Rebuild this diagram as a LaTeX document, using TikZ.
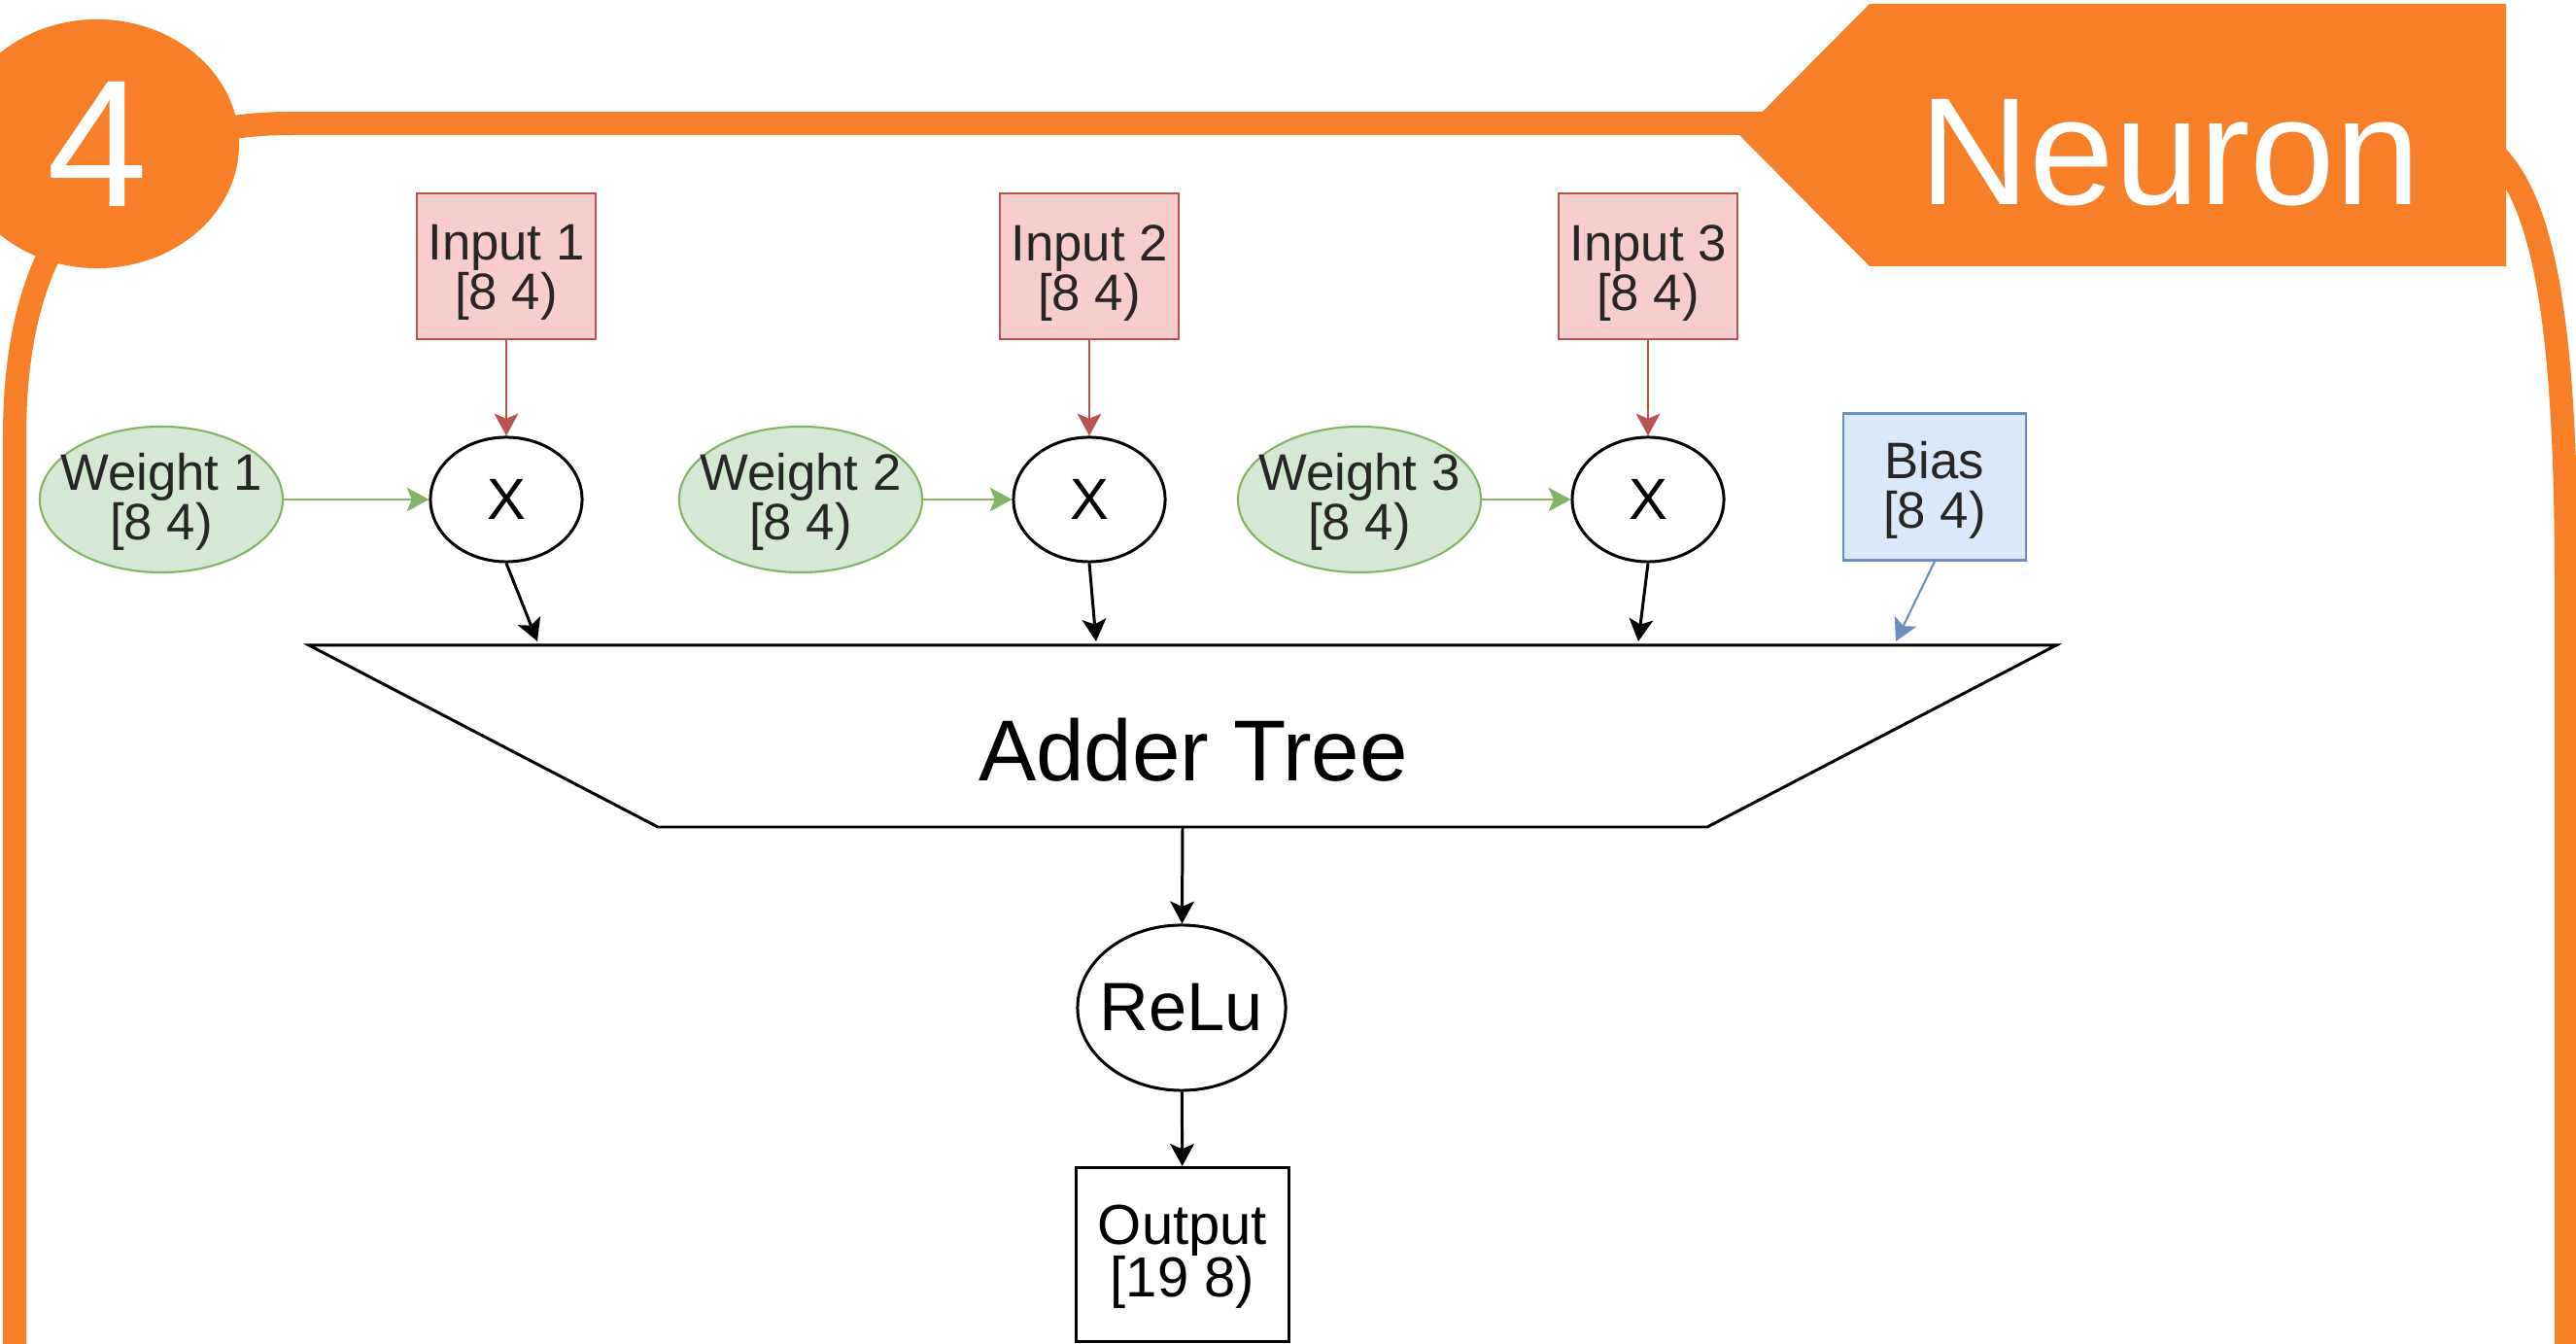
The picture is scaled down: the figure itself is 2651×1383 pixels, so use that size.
\documentclass[tikz,border=0pt]{standalone}
\usepackage{fontspec}
\setmainfont{Liberation Sans}
\usetikzlibrary{shapes.geometric,arrows.meta}
\definecolor{orng}{HTML}{F77F28}
\definecolor{pinkfill}{HTML}{F8CECC}
\definecolor{pinkdraw}{HTML}{B85450}
\definecolor{greenfill}{HTML}{D5E8D4}
\definecolor{greendraw}{HTML}{82B366}
\definecolor{bluefill}{HTML}{DAE8FC}
\definecolor{bluedraw}{HTML}{6C8EBF}
\definecolor{txt}{HTML}{262626}
\newcommand{\lw}[2]{\raisebox{#1}[\height][\depth]{#2}}
\begin{document}
\begin{tikzpicture}[x=0.01cm,y=-0.01cm,
  lbl/.style={font=\fontsize{15}{14.5}\selectfont, text=txt, align=center, inner sep=0pt},
  inbox/.style={lbl, rectangle, draw=pinkdraw, fill=pinkfill, line width=0.6pt, minimum width=1.84cm, minimum height=1.50cm},
  biasbox/.style={lbl, rectangle, draw=bluedraw, fill=bluefill, line width=0.6pt, minimum width=1.88cm, minimum height=1.51cm},
  wgt/.style={lbl, ellipse, draw=greendraw, fill=greenfill, line width=0.6pt, minimum width=2.50cm, minimum height=1.50cm, inner xsep=-0.2cm},
  mul/.style={ellipse, draw=black, line width=0.85pt, minimum width=1.56cm, minimum height=1.28cm, inner sep=0pt, font=\fontsize{17}{17}\selectfont},
  relubox/.style={ellipse, draw=black, line width=0.85pt, minimum width=2.14cm, minimum height=1.70cm, inner sep=0pt, inner xsep=-0.2cm, font=\fontsize{20}{20}\selectfont},
  outbox/.style={rectangle, draw=black, line width=0.85pt, minimum width=2.18cm, minimum height=1.79cm, inner sep=0pt, align=center, font=\fontsize{16.5}{15.5}\selectfont},
  arr/.style={-{Stealth[length=6.5pt,width=7pt,inset=1.5pt]}, line width=0.85pt, black},
  carr/.style={-{Stealth[length=6.5pt,width=7pt,inset=1.5pt]}, line width=0.6pt},
  frame/.style={draw=orng, line width=6.83pt}
  ]
\useasboundingbox (0,0) rectangle (2651,1383);
\clip (0,0) rectangle (2651,1383);

% orange frame
\path[frame] (15,1450) -- (15,450) .. controls (15,300) and (60,127) .. (300,127)
  -- (2480,127) .. controls (2592,127) and (2641,210) .. (2641,600) -- (2641,1450);

% badge and tag
\node[ellipse, fill=orng, minimum width=2.92cm, minimum height=2.56cm, inner sep=0pt,
  text=white, font=\fontsize{53}{53}\selectfont] (badge) at (100,148) {4};
\fill[orng] (1790,139) -- (1924,4) -- (2579,4) -- (2579,274) -- (1924,274) -- cycle;
\node[anchor=base, text=white, inner sep=0pt, font=\fontsize{44.7}{44.7}\selectfont] (tag) at (2233,211) {Neuron};

% inputs
\node[inbox] (in1) at (521,274) {\lw{-1.9pt}{Input 1}\\\lw{-1.9pt}{{[}8 4)}};
\node[inbox] (in2) at (1121,274) {\lw{-1.9pt}{Input 2}\\\lw{-1.9pt}{{[}8 4)}};
\node[inbox] (in3) at (1696,274) {\lw{-1.9pt}{Input 3}\\\lw{-1.9pt}{{[}8 4)}};

% multipliers
\node[mul] (m1) at (521,514) {X};
\node[mul] (m2) at (1121,514) {X};
\node[mul] (m3) at (1696,514) {X};

% weights
\node[wgt] (w1) at (166,514) {\lw{-0.7pt}{Weight 1}\\\lw{-0.7pt}{{[}8 4)}};
\node[wgt] (w2) at (824,514) {\lw{-0.7pt}{Weight 2}\\\lw{-0.7pt}{{[}8 4)}};
\node[wgt] (w3) at (1399,514) {\lw{-0.7pt}{Weight 3}\\\lw{-0.7pt}{{[}8 4)}};

% bias
\node[biasbox] (bias) at (1991,501) {\lw{-1pt}{Bias}\\\lw{-1pt}{{[}8 4)}};

% adder tree
\draw[line width=0.85pt, fill=white] (318,664) -- (2116,664) -- (1757,851) -- (677,851) -- cycle;
\node[anchor=base, inner sep=0pt, font=\fontsize{25.3}{25}\selectfont] (adder) at (1228,804) {Adder Tree};
\coordinate (a1) at (553,660);
\coordinate (a2) at (1128,660);
\coordinate (a3) at (1686,660);
\coordinate (ab) at (1951,660);
\coordinate (abot) at (1217,851);

% relu and output
\node[relubox] (relu) at (1216,1037) {ReLu};
\node[outbox] (out) at (1217,1291) {\lw{-0.7pt}{Output}\\\lw{-0.7pt}{{[}19 8)}};

% connectors
\draw[carr, pinkdraw] (in1) -- (m1);
\draw[carr, pinkdraw] (in2) -- (m2);
\draw[carr, pinkdraw] (in3) -- (m3);
\draw[carr, greendraw] (w1) -- (m1);
\draw[carr, greendraw] (w2) -- (m2);
\draw[carr, greendraw] (w3) -- (m3);
\draw[arr] (m1.south) -- (a1);
\draw[arr] (m2.south) -- (a2);
\draw[arr] (m3.south) -- (a3);
\draw[carr, bluedraw] (bias.south) -- (ab);
\draw[arr] (abot) -- (relu);
\draw[arr] (relu) -- (out);
\end{tikzpicture}
\end{document}
